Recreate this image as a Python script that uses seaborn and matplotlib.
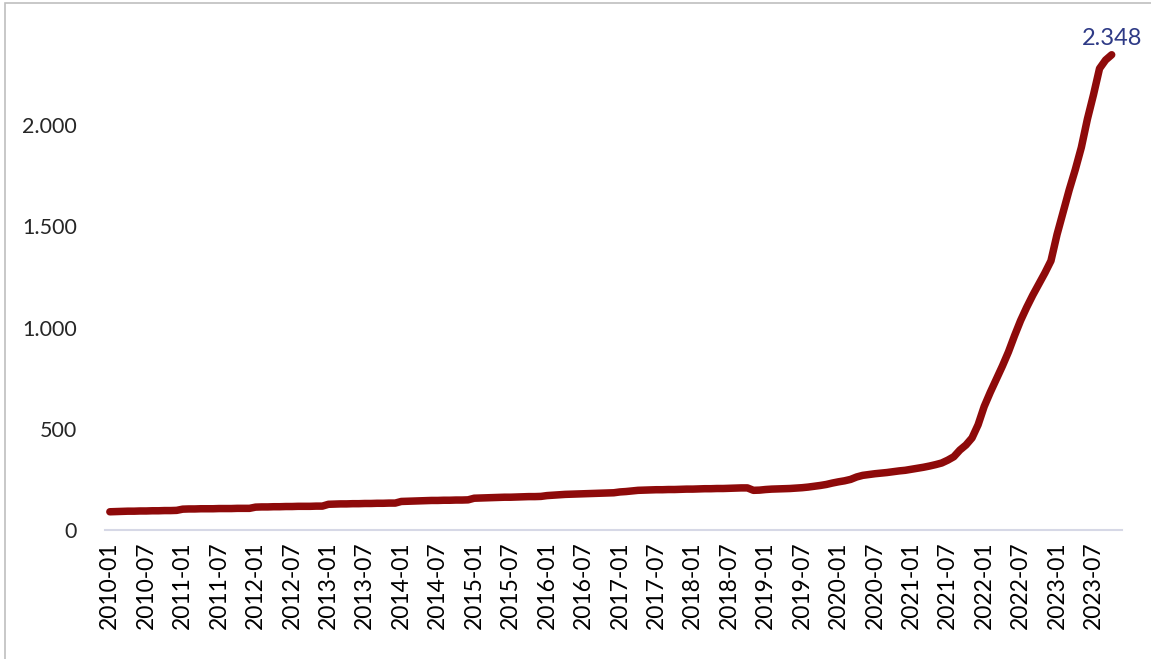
import matplotlib
matplotlib.use("Agg")
import matplotlib.pyplot as plt
import seaborn as sns
import pandas as pd
from matplotlib.patches import Rectangle

# ---- data (monthly index values, 2010-01 .. 2023-10) ----
v2010 = [90, 91, 92, 93, 93, 94, 94, 95, 95, 96, 96, 97]
v2011 = [103, 104, 104, 105, 105, 105, 106, 106, 106, 107, 107, 107]
v2012 = [113, 114, 114, 115, 115, 116, 116, 117, 117, 117, 118, 118]
v2013 = [127, 128, 129, 129, 130, 130, 131, 131, 132, 132, 133, 133]
v2014 = [141, 142, 143, 144, 145, 146, 146, 147, 147, 148, 148, 149]
v2015 = [157, 158, 159, 160, 161, 162, 162, 163, 164, 165, 165, 166]
v2016 = [170, 172, 174, 176, 177, 178, 179, 180, 181, 182, 183, 184]
v2017 = [188, 190, 193, 196, 197, 198, 199, 199, 200, 200, 201, 202]
v2018 = [202, 203, 204, 204, 205, 205, 206, 207, 208, 208, 196, 197]
v2019 = [200, 202, 203, 204, 205, 207, 209, 212, 216, 220, 225, 232]
v2020 = [238, 243, 250, 262, 270, 274, 278, 281, 284, 288, 292, 295]
v2021 = [300, 305, 310, 316, 323, 331, 345, 362, 395, 420, 455, 520]
v2022 = [610, 680, 745, 810, 880, 960, 1035, 1100, 1160, 1215, 1270, 1330]
v2023 = [1460, 1570, 1680, 1780, 1890, 2030, 2150, 2280, 2322, 2348]

values = (v2010 + v2011 + v2012 + v2013 + v2014 + v2015 + v2016 + v2017 +
          v2018 + v2019 + v2020 + v2021 + v2022 + v2023)
months = [f"{2010 + i // 12}-{i % 12 + 1:02d}" for i in range(len(values))]
y_ticks = [0, 500, 1000, 1500, 2000]
y_tick_labels = ["0", "500", "1.000", "1.500", "2.000"]
end_label = "2.348"

df = pd.DataFrame({"idx": range(len(values)), "value": values, "month": months})

sns.set_theme(style="white")
plt.rcParams["font.family"] = ["Lato", "DejaVu Sans"]

fig = plt.figure(figsize=(11.51, 6.59), dpi=100)
ax = fig.add_axes([105 / 1151, 1 - 530 / 659, (1122 - 105) / 1151, (530 - 24) / 659])

sns.lineplot(data=df, x="idx", y="value", ax=ax, color="#8e0a0a", linewidth=5.4,
             solid_capstyle="round", solid_joinstyle="round")

ax.set_xlim(-0.8, 166.7)
ax.set_ylim(0, 2500)
ax.set_yticks(y_ticks)
ax.set_yticklabels(y_tick_labels, fontsize=15.5, color="#262626")
tick_pos = list(range(0, len(values), 6))
ax.set_xticks(tick_pos)
ax.set_xticklabels([months[i] for i in tick_pos], rotation=90, fontsize=16.5, color="#000000")
ax.tick_params(axis="both", length=0)
ax.tick_params(axis="y", pad=20)
ax.tick_params(axis="x", pad=8)
ax.set_xlabel("")
ax.set_ylabel("")
for s in ["top", "right", "left"]:
    ax.spines[s].set_visible(False)
ax.spines["bottom"].set_color("#d6d8e6")
ax.spines["bottom"].set_linewidth(1.5)

last = len(values) - 1
ax.annotate(end_label, xy=(last, values[last]), xytext=(0, 4),
            textcoords="offset points", ha="center", va="bottom",
            fontsize=17, color="#2e3a86")

fig.patches.append(Rectangle((5 / 1151, -0.1), 1.2, 1.1 - 3 / 659,
                             transform=fig.transFigure, fill=False,
                             edgecolor="#bfbfbf", linewidth=1.2))

fig.savefig("out.png", dpi=100, facecolor="white")
